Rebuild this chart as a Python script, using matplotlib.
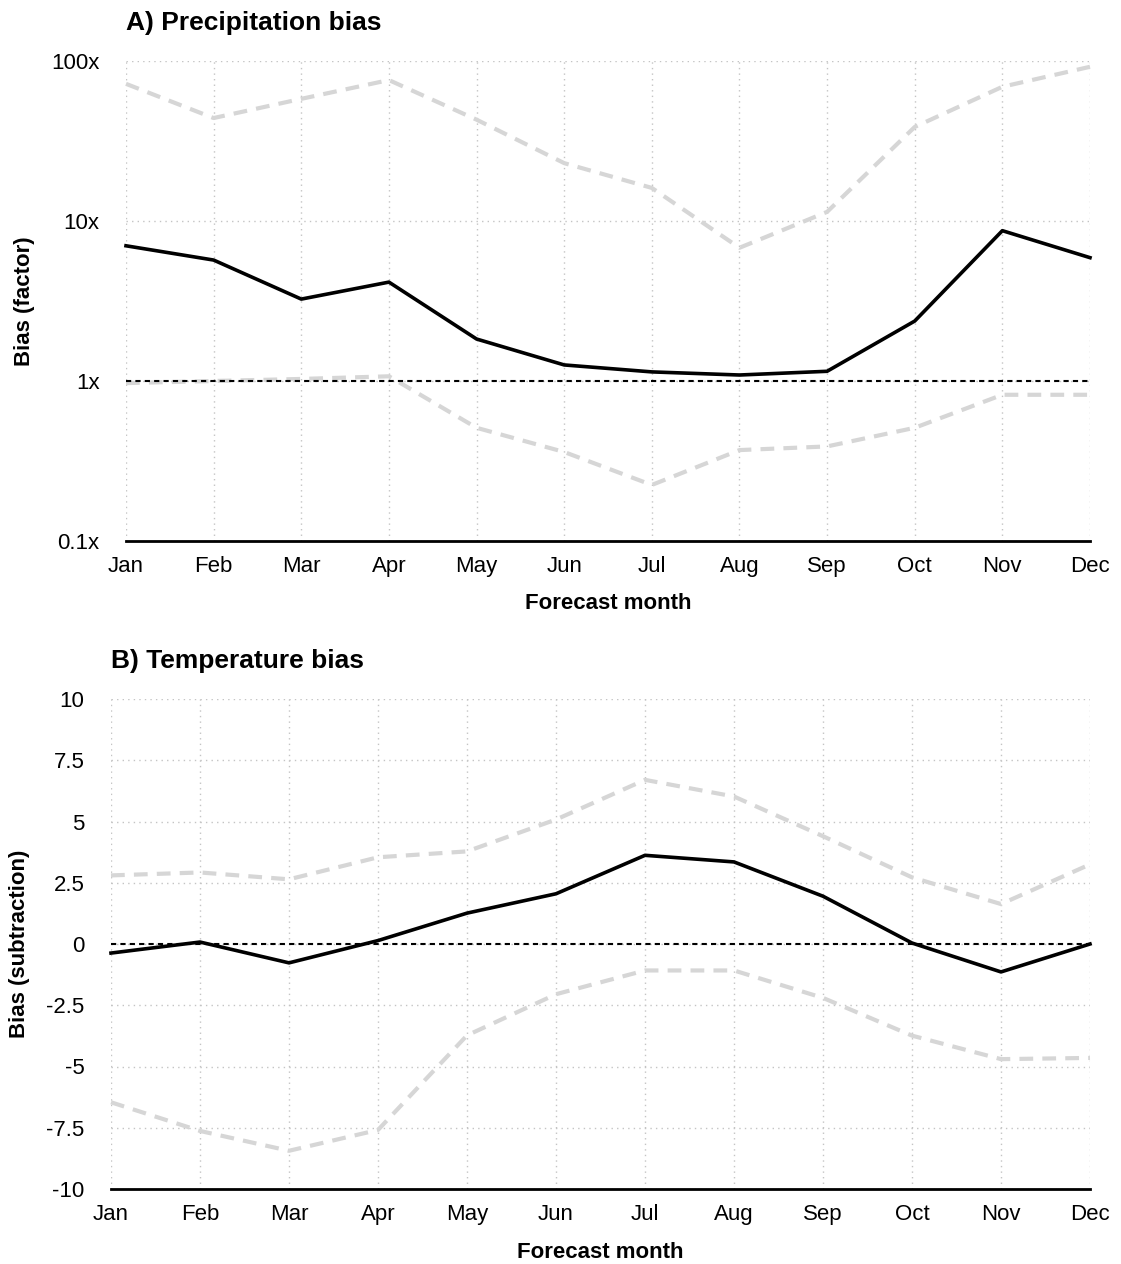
import matplotlib
matplotlib.use("Agg")
import matplotlib.pyplot as plt
import numpy as np

plt.rcParams['font.family'] = ['Liberation Sans', 'DejaVu Sans']

months = ['Jan', 'Feb', 'Mar', 'Apr', 'May', 'Jun', 'Jul', 'Aug', 'Sep', 'Oct', 'Nov', 'Dec']

# precipitation bias (factor)
precip_mean = [7.0, 5.7, 3.25, 4.15, 1.83, 1.26, 1.14, 1.09, 1.15, 2.37, 8.7, 5.9]
precip_upper = [72, 44, 58, 76, 43, 23, 16.1, 6.8, 11.4, 38.7, 69, 92]
precip_lower = [0.97, 1.0, 1.03, 1.07, 0.51, 0.36, 0.224, 0.37, 0.39, 0.51, 0.82, 0.82]
precip_ticks = [0.1, 1, 10, 100]
precip_ticklabels = ['0.1x', '1x', '10x', '100x']

# temperature bias (subtraction)
temp_mean = [-0.37, 0.08, -0.77, 0.14, 1.26, 2.05, 3.62, 3.35, 1.95, 0.04, -1.14, 0.0]
temp_upper = [2.8, 2.92, 2.64, 3.54, 3.78, 5.08, 6.7, 6.02, 4.4, 2.72, 1.63, 3.25]
temp_lower = [-6.46, -7.63, -8.44, -7.59, -3.73, -2.05, -1.08, -1.08, -2.2, -3.74, -4.7, -4.65]
temp_ticks = [-10, -7.5, -5, -2.5, 0, 2.5, 5, 7.5, 10]
temp_ticklabels = ['-10', '-7.5', '-5', '-2.5', '0', '2.5', '5', '7.5', '10']

W, H = 1121, 1264
fig = plt.figure(figsize=(W / 100, H / 100), dpi=100)

# axes boxes in pixels: left, right, top, bottom
ax1 = fig.add_axes([126 / W, 1 - 541 / H, (1090 - 126) / W, (541 - 61) / H])
ax2 = fig.add_axes([111 / W, 1 - 1189 / H, (1090 - 111) / W, (1189 - 699) / H])

x = np.arange(len(months))
grey = '#d6d6d6'


def style_axes(ax, title, ylabel, ylab_x):
    ax.set_xlim(0, len(months) - 1)
    ax.set_xticks(x)
    ax.set_xticklabels(months)
    ax.grid(True, color='#c4c4c4', linestyle=(0, (1, 3)), linewidth=1)
    ax.set_axisbelow(True)
    for s in ['top', 'right', 'left']:
        ax.spines[s].set_visible(False)
    ax.spines['bottom'].set_linewidth(2.0)
    ax.spines['bottom'].set_zorder(5)
    ax.tick_params(axis='both', length=0, labelsize=16)
    ax.tick_params(axis='y', pad=19)
    ax.tick_params(axis='x', pad=11)
    ax.set_title(title, loc='left', fontsize=19, fontweight='bold', pad=22)
    ax.set_xlabel('Forecast month', fontsize=16, fontweight='bold')
    ax.xaxis.set_label_coords(0.5, -0.13)
    ax.xaxis.label.set_va('center')
    ax.set_ylabel(ylabel, fontsize=16, fontweight='bold')
    ax.yaxis.set_label_coords(ylab_x, 0.5)
    ax.yaxis.label.set_va('center')


# A) precipitation
ax1.set_yscale('log')
ax1.set_ylim(0.1, 100)
ax1.plot(x, precip_upper, color=grey, lw=3, linestyle=(0, (3.3, 2.2)), clip_on=False, zorder=2)
ax1.plot(x, precip_lower, color=grey, lw=3, linestyle=(0, (3.3, 2.2)), clip_on=False, zorder=2)
ax1.axhline(1, color='black', lw=1.5, linestyle=(0, (2.5, 2)), zorder=3)
ax1.plot(x, precip_mean, color='black', lw=2.6, clip_on=False, zorder=4)
ax1.set_yticks(precip_ticks)
ax1.set_yticklabels(precip_ticklabels)
ax1.yaxis.set_minor_locator(matplotlib.ticker.NullLocator())
style_axes(ax1, 'A) Precipitation bias', 'Bias (factor)', -0.105)

# B) temperature
ax2.set_ylim(-10, 10)
ax2.plot(x, temp_upper, color=grey, lw=3, linestyle=(0, (3.3, 2.2)), clip_on=False, zorder=2)
ax2.plot(x, temp_lower, color=grey, lw=3, linestyle=(0, (3.3, 2.2)), clip_on=False, zorder=2)
ax2.axhline(0, color='black', lw=1.5, linestyle=(0, (2.5, 2)), zorder=3)
ax2.plot(x, temp_mean, color='black', lw=2.6, clip_on=False, zorder=4)
ax2.set_yticks(temp_ticks)
ax2.set_yticklabels(temp_ticklabels)
style_axes(ax2, 'B) Temperature bias', 'Bias (subtraction)', -0.093)

fig.savefig('out.png', dpi=100, facecolor='white')
